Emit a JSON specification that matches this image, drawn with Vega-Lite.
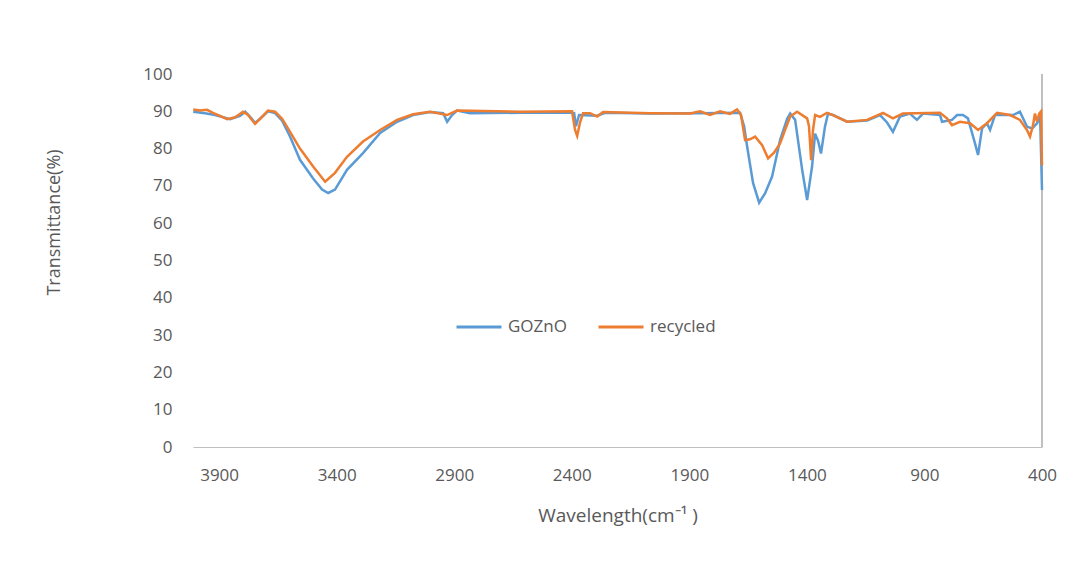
{
  "$schema": "https://vega.github.io/schema/vega-lite/v6.json",
  "autosize": {"type": "none"},
  "padding": {"left": 193, "top": 74, "right": 42, "bottom": 119},
  "width": 849,
  "height": 373,
  "background": "white",
  "config": {
    "font": "Open Sans",
    "view": {"stroke": null},
    "axis": {"labelColor": "#595959", "titleColor": "#595959", "labelFont": "Open Sans", "titleFont": "Open Sans", "titleFontWeight": "normal", "grid": false, "labelOverlap": false, "labelFlush": false}
  },
  "data": {
    "values": [
      {"w": 4010, "t": 89.9, "s": "GOZnO"},
      {"w": 3960, "t": 89.5, "s": "GOZnO"},
      {"w": 3917, "t": 89.0, "s": "GOZnO"},
      {"w": 3853, "t": 87.9, "s": "GOZnO"},
      {"w": 3811, "t": 88.8, "s": "GOZnO"},
      {"w": 3789, "t": 89.9, "s": "GOZnO"},
      {"w": 3768, "t": 88.5, "s": "GOZnO"},
      {"w": 3747, "t": 86.9, "s": "GOZnO"},
      {"w": 3726, "t": 88.0, "s": "GOZnO"},
      {"w": 3692, "t": 90.0, "s": "GOZnO"},
      {"w": 3662, "t": 89.5, "s": "GOZnO"},
      {"w": 3632, "t": 87.5, "s": "GOZnO"},
      {"w": 3598, "t": 83.2, "s": "GOZnO"},
      {"w": 3556, "t": 77.0, "s": "GOZnO"},
      {"w": 3500, "t": 72.0, "s": "GOZnO"},
      {"w": 3462, "t": 69.0, "s": "GOZnO"},
      {"w": 3436, "t": 68.1, "s": "GOZnO"},
      {"w": 3407, "t": 69.0, "s": "GOZnO"},
      {"w": 3356, "t": 74.3, "s": "GOZnO"},
      {"w": 3288, "t": 78.8, "s": "GOZnO"},
      {"w": 3215, "t": 84.2, "s": "GOZnO"},
      {"w": 3143, "t": 87.2, "s": "GOZnO"},
      {"w": 3075, "t": 89.0, "s": "GOZnO"},
      {"w": 3003, "t": 89.8, "s": "GOZnO"},
      {"w": 2947, "t": 89.5, "s": "GOZnO"},
      {"w": 2930, "t": 87.2, "s": "GOZnO"},
      {"w": 2909, "t": 89.0, "s": "GOZnO"},
      {"w": 2888, "t": 90.2, "s": "GOZnO"},
      {"w": 2833, "t": 89.5, "s": "GOZnO"},
      {"w": 2620, "t": 89.6, "s": "GOZnO"},
      {"w": 2407, "t": 89.7, "s": "GOZnO"},
      {"w": 2390, "t": 89.5, "s": "GOZnO"},
      {"w": 2382, "t": 86.0, "s": "GOZnO"},
      {"w": 2369, "t": 89.0, "s": "GOZnO"},
      {"w": 2292, "t": 88.8, "s": "GOZnO"},
      {"w": 2258, "t": 89.6, "s": "GOZnO"},
      {"w": 2067, "t": 89.4, "s": "GOZnO"},
      {"w": 1854, "t": 89.5, "s": "GOZnO"},
      {"w": 1684, "t": 89.6, "s": "GOZnO"},
      {"w": 1667, "t": 86.0, "s": "GOZnO"},
      {"w": 1654, "t": 80.5, "s": "GOZnO"},
      {"w": 1629, "t": 70.8, "s": "GOZnO"},
      {"w": 1603, "t": 65.5, "s": "GOZnO"},
      {"w": 1578, "t": 68.0, "s": "GOZnO"},
      {"w": 1548, "t": 72.5, "s": "GOZnO"},
      {"w": 1514, "t": 82.3, "s": "GOZnO"},
      {"w": 1484, "t": 88.0, "s": "GOZnO"},
      {"w": 1471, "t": 89.4, "s": "GOZnO"},
      {"w": 1450, "t": 87.7, "s": "GOZnO"},
      {"w": 1420, "t": 74.3, "s": "GOZnO"},
      {"w": 1399, "t": 66.2, "s": "GOZnO"},
      {"w": 1378, "t": 75.2, "s": "GOZnO"},
      {"w": 1365, "t": 84.0, "s": "GOZnO"},
      {"w": 1352, "t": 82.0, "s": "GOZnO"},
      {"w": 1340, "t": 78.7, "s": "GOZnO"},
      {"w": 1323, "t": 85.9, "s": "GOZnO"},
      {"w": 1310, "t": 89.4, "s": "GOZnO"},
      {"w": 1289, "t": 89.0, "s": "GOZnO"},
      {"w": 1229, "t": 87.2, "s": "GOZnO"},
      {"w": 1144, "t": 87.5, "s": "GOZnO"},
      {"w": 1089, "t": 89.0, "s": "GOZnO"},
      {"w": 1059, "t": 87.0, "s": "GOZnO"},
      {"w": 1034, "t": 84.5, "s": "GOZnO"},
      {"w": 1004, "t": 88.6, "s": "GOZnO"},
      {"w": 962, "t": 89.4, "s": "GOZnO"},
      {"w": 932, "t": 87.7, "s": "GOZnO"},
      {"w": 906, "t": 89.4, "s": "GOZnO"},
      {"w": 834, "t": 89.0, "s": "GOZnO"},
      {"w": 825, "t": 87.2, "s": "GOZnO"},
      {"w": 783, "t": 87.7, "s": "GOZnO"},
      {"w": 761, "t": 89.0, "s": "GOZnO"},
      {"w": 736, "t": 89.0, "s": "GOZnO"},
      {"w": 715, "t": 88.1, "s": "GOZnO"},
      {"w": 685, "t": 81.4, "s": "GOZnO"},
      {"w": 672, "t": 78.3, "s": "GOZnO"},
      {"w": 655, "t": 85.4, "s": "GOZnO"},
      {"w": 634, "t": 86.8, "s": "GOZnO"},
      {"w": 621, "t": 85.0, "s": "GOZnO"},
      {"w": 600, "t": 89.0, "s": "GOZnO"},
      {"w": 523, "t": 89.0, "s": "GOZnO"},
      {"w": 494, "t": 89.9, "s": "GOZnO"},
      {"w": 464, "t": 85.9, "s": "GOZnO"},
      {"w": 442, "t": 85.4, "s": "GOZnO"},
      {"w": 421, "t": 86.8, "s": "GOZnO"},
      {"w": 408, "t": 88.6, "s": "GOZnO"},
      {"w": 400, "t": 68.9, "s": "GOZnO"},
      {"w": 4010, "t": 90.5, "s": "recycled"},
      {"w": 3981, "t": 90.2, "s": "recycled"},
      {"w": 3951, "t": 90.4, "s": "recycled"},
      {"w": 3926, "t": 89.6, "s": "recycled"},
      {"w": 3896, "t": 88.8, "s": "recycled"},
      {"w": 3866, "t": 87.9, "s": "recycled"},
      {"w": 3832, "t": 88.4, "s": "recycled"},
      {"w": 3798, "t": 89.9, "s": "recycled"},
      {"w": 3777, "t": 89.0, "s": "recycled"},
      {"w": 3747, "t": 86.6, "s": "recycled"},
      {"w": 3717, "t": 88.5, "s": "recycled"},
      {"w": 3692, "t": 90.2, "s": "recycled"},
      {"w": 3662, "t": 89.9, "s": "recycled"},
      {"w": 3632, "t": 88.0, "s": "recycled"},
      {"w": 3598, "t": 84.5, "s": "recycled"},
      {"w": 3556, "t": 80.0, "s": "recycled"},
      {"w": 3500, "t": 75.2, "s": "recycled"},
      {"w": 3449, "t": 71.1, "s": "recycled"},
      {"w": 3407, "t": 73.5, "s": "recycled"},
      {"w": 3356, "t": 77.8, "s": "recycled"},
      {"w": 3288, "t": 81.9, "s": "recycled"},
      {"w": 3215, "t": 85.0, "s": "recycled"},
      {"w": 3143, "t": 87.7, "s": "recycled"},
      {"w": 3075, "t": 89.2, "s": "recycled"},
      {"w": 3003, "t": 89.9, "s": "recycled"},
      {"w": 2930, "t": 89.0, "s": "recycled"},
      {"w": 2888, "t": 90.2, "s": "recycled"},
      {"w": 2620, "t": 89.9, "s": "recycled"},
      {"w": 2399, "t": 90.0, "s": "recycled"},
      {"w": 2386, "t": 85.0, "s": "recycled"},
      {"w": 2377, "t": 83.4, "s": "recycled"},
      {"w": 2365, "t": 87.0, "s": "recycled"},
      {"w": 2352, "t": 89.5, "s": "recycled"},
      {"w": 2322, "t": 89.5, "s": "recycled"},
      {"w": 2292, "t": 88.6, "s": "recycled"},
      {"w": 2267, "t": 89.8, "s": "recycled"},
      {"w": 2067, "t": 89.5, "s": "recycled"},
      {"w": 1897, "t": 89.4, "s": "recycled"},
      {"w": 1854, "t": 90.0, "s": "recycled"},
      {"w": 1812, "t": 89.0, "s": "recycled"},
      {"w": 1769, "t": 90.0, "s": "recycled"},
      {"w": 1727, "t": 89.3, "s": "recycled"},
      {"w": 1697, "t": 90.5, "s": "recycled"},
      {"w": 1680, "t": 89.0, "s": "recycled"},
      {"w": 1663, "t": 82.3, "s": "recycled"},
      {"w": 1642, "t": 82.5, "s": "recycled"},
      {"w": 1620, "t": 83.2, "s": "recycled"},
      {"w": 1591, "t": 81.0, "s": "recycled"},
      {"w": 1565, "t": 77.4, "s": "recycled"},
      {"w": 1539, "t": 79.0, "s": "recycled"},
      {"w": 1514, "t": 81.4, "s": "recycled"},
      {"w": 1493, "t": 85.0, "s": "recycled"},
      {"w": 1471, "t": 88.6, "s": "recycled"},
      {"w": 1442, "t": 89.9, "s": "recycled"},
      {"w": 1399, "t": 88.1, "s": "recycled"},
      {"w": 1391, "t": 86.0, "s": "recycled"},
      {"w": 1382, "t": 76.9, "s": "recycled"},
      {"w": 1374, "t": 85.0, "s": "recycled"},
      {"w": 1365, "t": 89.0, "s": "recycled"},
      {"w": 1344, "t": 88.5, "s": "recycled"},
      {"w": 1314, "t": 89.6, "s": "recycled"},
      {"w": 1289, "t": 89.0, "s": "recycled"},
      {"w": 1229, "t": 87.2, "s": "recycled"},
      {"w": 1144, "t": 87.7, "s": "recycled"},
      {"w": 1076, "t": 89.6, "s": "recycled"},
      {"w": 1034, "t": 88.1, "s": "recycled"},
      {"w": 992, "t": 89.4, "s": "recycled"},
      {"w": 834, "t": 89.6, "s": "recycled"},
      {"w": 804, "t": 88.1, "s": "recycled"},
      {"w": 783, "t": 86.3, "s": "recycled"},
      {"w": 749, "t": 87.2, "s": "recycled"},
      {"w": 706, "t": 86.8, "s": "recycled"},
      {"w": 672, "t": 85.0, "s": "recycled"},
      {"w": 634, "t": 86.8, "s": "recycled"},
      {"w": 591, "t": 89.6, "s": "recycled"},
      {"w": 536, "t": 89.0, "s": "recycled"},
      {"w": 494, "t": 87.7, "s": "recycled"},
      {"w": 464, "t": 85.0, "s": "recycled"},
      {"w": 451, "t": 83.2, "s": "recycled"},
      {"w": 438, "t": 86.3, "s": "recycled"},
      {"w": 430, "t": 89.4, "s": "recycled"},
      {"w": 421, "t": 87.2, "s": "recycled"},
      {"w": 412, "t": 89.4, "s": "recycled"},
      {"w": 404, "t": 90.0, "s": "recycled"},
      {"w": 400, "t": 75.5, "s": "recycled"}
    ]
  },
  "encoding": {
    "x": {
      "field": "w", "type": "quantitative",
      "scale": {"domain": [400, 4011], "reverse": true, "nice": false, "zero": false},
      "axis": {
        "values": [3900, 3400, 2900, 2400, 1900, 1400, 900, 400],
        "format": "d",
        "title": "Wavelength(cm\u207b\u00b9 )",
        "titleFontSize": 19,
        "titleY": 68,
        "titleBaseline": "middle",
        "labelFontSize": 17,
        "labelPadding": 20,
        "ticks": false,
        "domainColor": "#BFBFBF",
        "domainWidth": 1
      }
    },
    "y": {
      "field": "t", "type": "quantitative",
      "scale": {"domain": [0, 100], "nice": false},
      "axis": {
        "values": [0, 10, 20, 30, 40, 50, 60, 70, 80, 90, 100],
        "format": "d",
        "title": "Transmittance(%)",
        "titleFontSize": 18,
        "titleX": -139,
        "titleY": 148,
        "titleBaseline": "middle",
        "labelFontSize": 17,
        "labelPadding": 21,
        "ticks": false,
        "domain": false
      }
    }
  },
  "layer": [
    {
      "mark": {"type": "rule", "color": "#BFBFBF", "strokeWidth": 1},
      "encoding": {
        "x": {"datum": 400, "type": "quantitative"},
        "y": {"datum": 0, "type": "quantitative"},
        "y2": {"datum": 100}
      }
    },
    {
      "mark": {"type": "line", "strokeWidth": 2.5},
      "encoding": {
        "color": {
          "field": "s", "type": "nominal",
          "scale": {"domain": ["GOZnO", "recycled"], "range": ["#5B9BD5", "#ED7D31"]},
          "legend": {
            "title": null,
            "orient": "none",
            "legendX": 262,
            "legendY": 229,
            "direction": "horizontal",
            "symbolType": "stroke",
            "symbolSize": 2025,
            "symbolStrokeWidth": 3,
            "labelFontSize": 17,
            "labelColor": "#595959",
            "labelFont": "Open Sans",
            "labelOffset": 5,
            "columnPadding": 25
          }
        }
      }
    }
  ]
}
